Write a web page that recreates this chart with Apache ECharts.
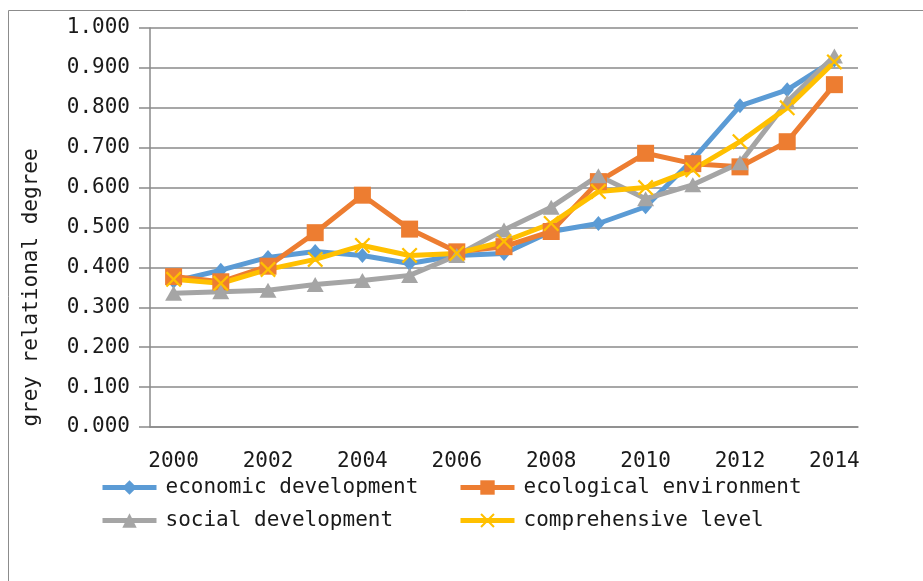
<!DOCTYPE html>
<html>
<head>
<meta charset="utf-8">
<script src="https://cdn.jsdelivr.net/npm/echarts@6/dist/echarts.min.js"></script>
<style>
html,body{margin:0;padding:0;background:#fff;}
#main{width:923px;height:581px;}
</style>
</head>
<body>
<div id="main"></div>
<script>
var years = ['2000','2001','2002','2003','2004','2005','2006','2007','2008','2009','2010','2011','2012','2013','2014'];
var economic = [0.365,0.393,0.425,0.440,0.430,0.410,0.430,0.435,0.490,0.510,0.552,0.670,0.805,0.845,0.920];
var ecological = [0.377,0.364,0.403,0.487,0.581,0.496,0.439,0.452,0.490,0.615,0.686,0.660,0.652,0.715,0.858];
var social = [0.335,0.339,0.343,0.357,0.367,0.380,0.430,0.494,0.551,0.630,0.572,0.607,0.662,0.815,0.930];
var comprehensive = [0.370,0.360,0.395,0.420,0.455,0.430,0.435,0.465,0.510,0.590,0.600,0.645,0.715,0.800,0.915];
var names = ['economic development','ecological environment','social development','comprehensive level'];

var FONT = '"DejaVu Sans Mono", "Liberation Mono", monospace';
var TXT = '#1a1a1a';
var GRID = '#8a8a8a';
var xSym = 'path://M0,1 L1,0 L5,4 L9,0 L10,1 L6,5 L10,9 L9,10 L5,6 L1,10 L0,9 L4,5 Z';

function mkLegend(name, left, top) {
  return {
    data: [name], left: left, top: top, padding: 0,
    itemWidth: 54, itemHeight: 18,
    lineStyle: {width: 5},
    textStyle: {fontFamily: FONT, fontSize: 21, color: TXT, padding: [0,0,0,4]}
  };
}

var chart = echarts.init(document.getElementById('main'), null, {renderer: 'canvas'});
chart.setOption({
  backgroundColor: '#fff',
  animation: false,
  graphic: [{
    type: 'rect', shape: {x: 8.5, y: 10.5, width: 1000, height: 700},
    style: {fill: 'none', stroke: '#8c8c8c', lineWidth: 1}, silent: true, z: -10
  }],
  grid: {left: 150, top: 28, right: 65, bottom: 154, containLabel: false},
  legend: [
    mkLegend(names[0], 100, 477),
    mkLegend(names[1], 458, 477),
    mkLegend(names[2], 100, 510),
    mkLegend(names[3], 458, 510)
  ],
  xAxis: {
    type: 'category', data: years, boundaryGap: true,
    axisLine: {show: true, lineStyle: {color: GRID, width: 1.5}},
    axisTick: {show: false},
    axisLabel: {interval: 1, margin: 24, fontFamily: FONT, fontSize: 21, color: TXT}
  },
  yAxis: {
    type: 'value', min: 0, max: 1, interval: 0.1,
    name: 'grey relational degree', nameLocation: 'middle', nameRotate: 90, nameGap: 108,
    nameTextStyle: {fontFamily: FONT, fontSize: 21, color: TXT, padding: [0,120,0,0]},
    axisLine: {show: true, lineStyle: {color: GRID, width: 1.5}},
    axisTick: {show: true, length: 11, lineStyle: {color: GRID, width: 1.5}},
    splitLine: {show: true, lineStyle: {color: GRID, width: 1.5}},
    axisLabel: {margin: 20, fontFamily: FONT, fontSize: 21, color: TXT,
      formatter: function (v) { return v.toFixed(3); }}
  },
  series: [
    {name: names[0], type: 'line', data: economic, color: '#5B9BD5',
     symbol: 'diamond', symbolSize: [13, 15], lineStyle: {width: 5}, itemStyle: {color: '#5B9BD5'}},
    {name: names[1], type: 'line', data: ecological, color: '#ED7D31',
     symbol: 'rect', symbolSize: 17, lineStyle: {width: 5}, itemStyle: {color: '#ED7D31'}},
    {name: names[2], type: 'line', data: social, color: '#A5A5A5',
     symbol: 'triangle', symbolSize: [17, 15], lineStyle: {width: 5}, itemStyle: {color: '#A5A5A5'}},
    {name: names[3], type: 'line', data: comprehensive, color: '#FFC000',
     symbol: xSym, symbolSize: 16, lineStyle: {width: 5}, itemStyle: {color: '#FFC000'}}
  ]
});
</script>
</body>
</html>
